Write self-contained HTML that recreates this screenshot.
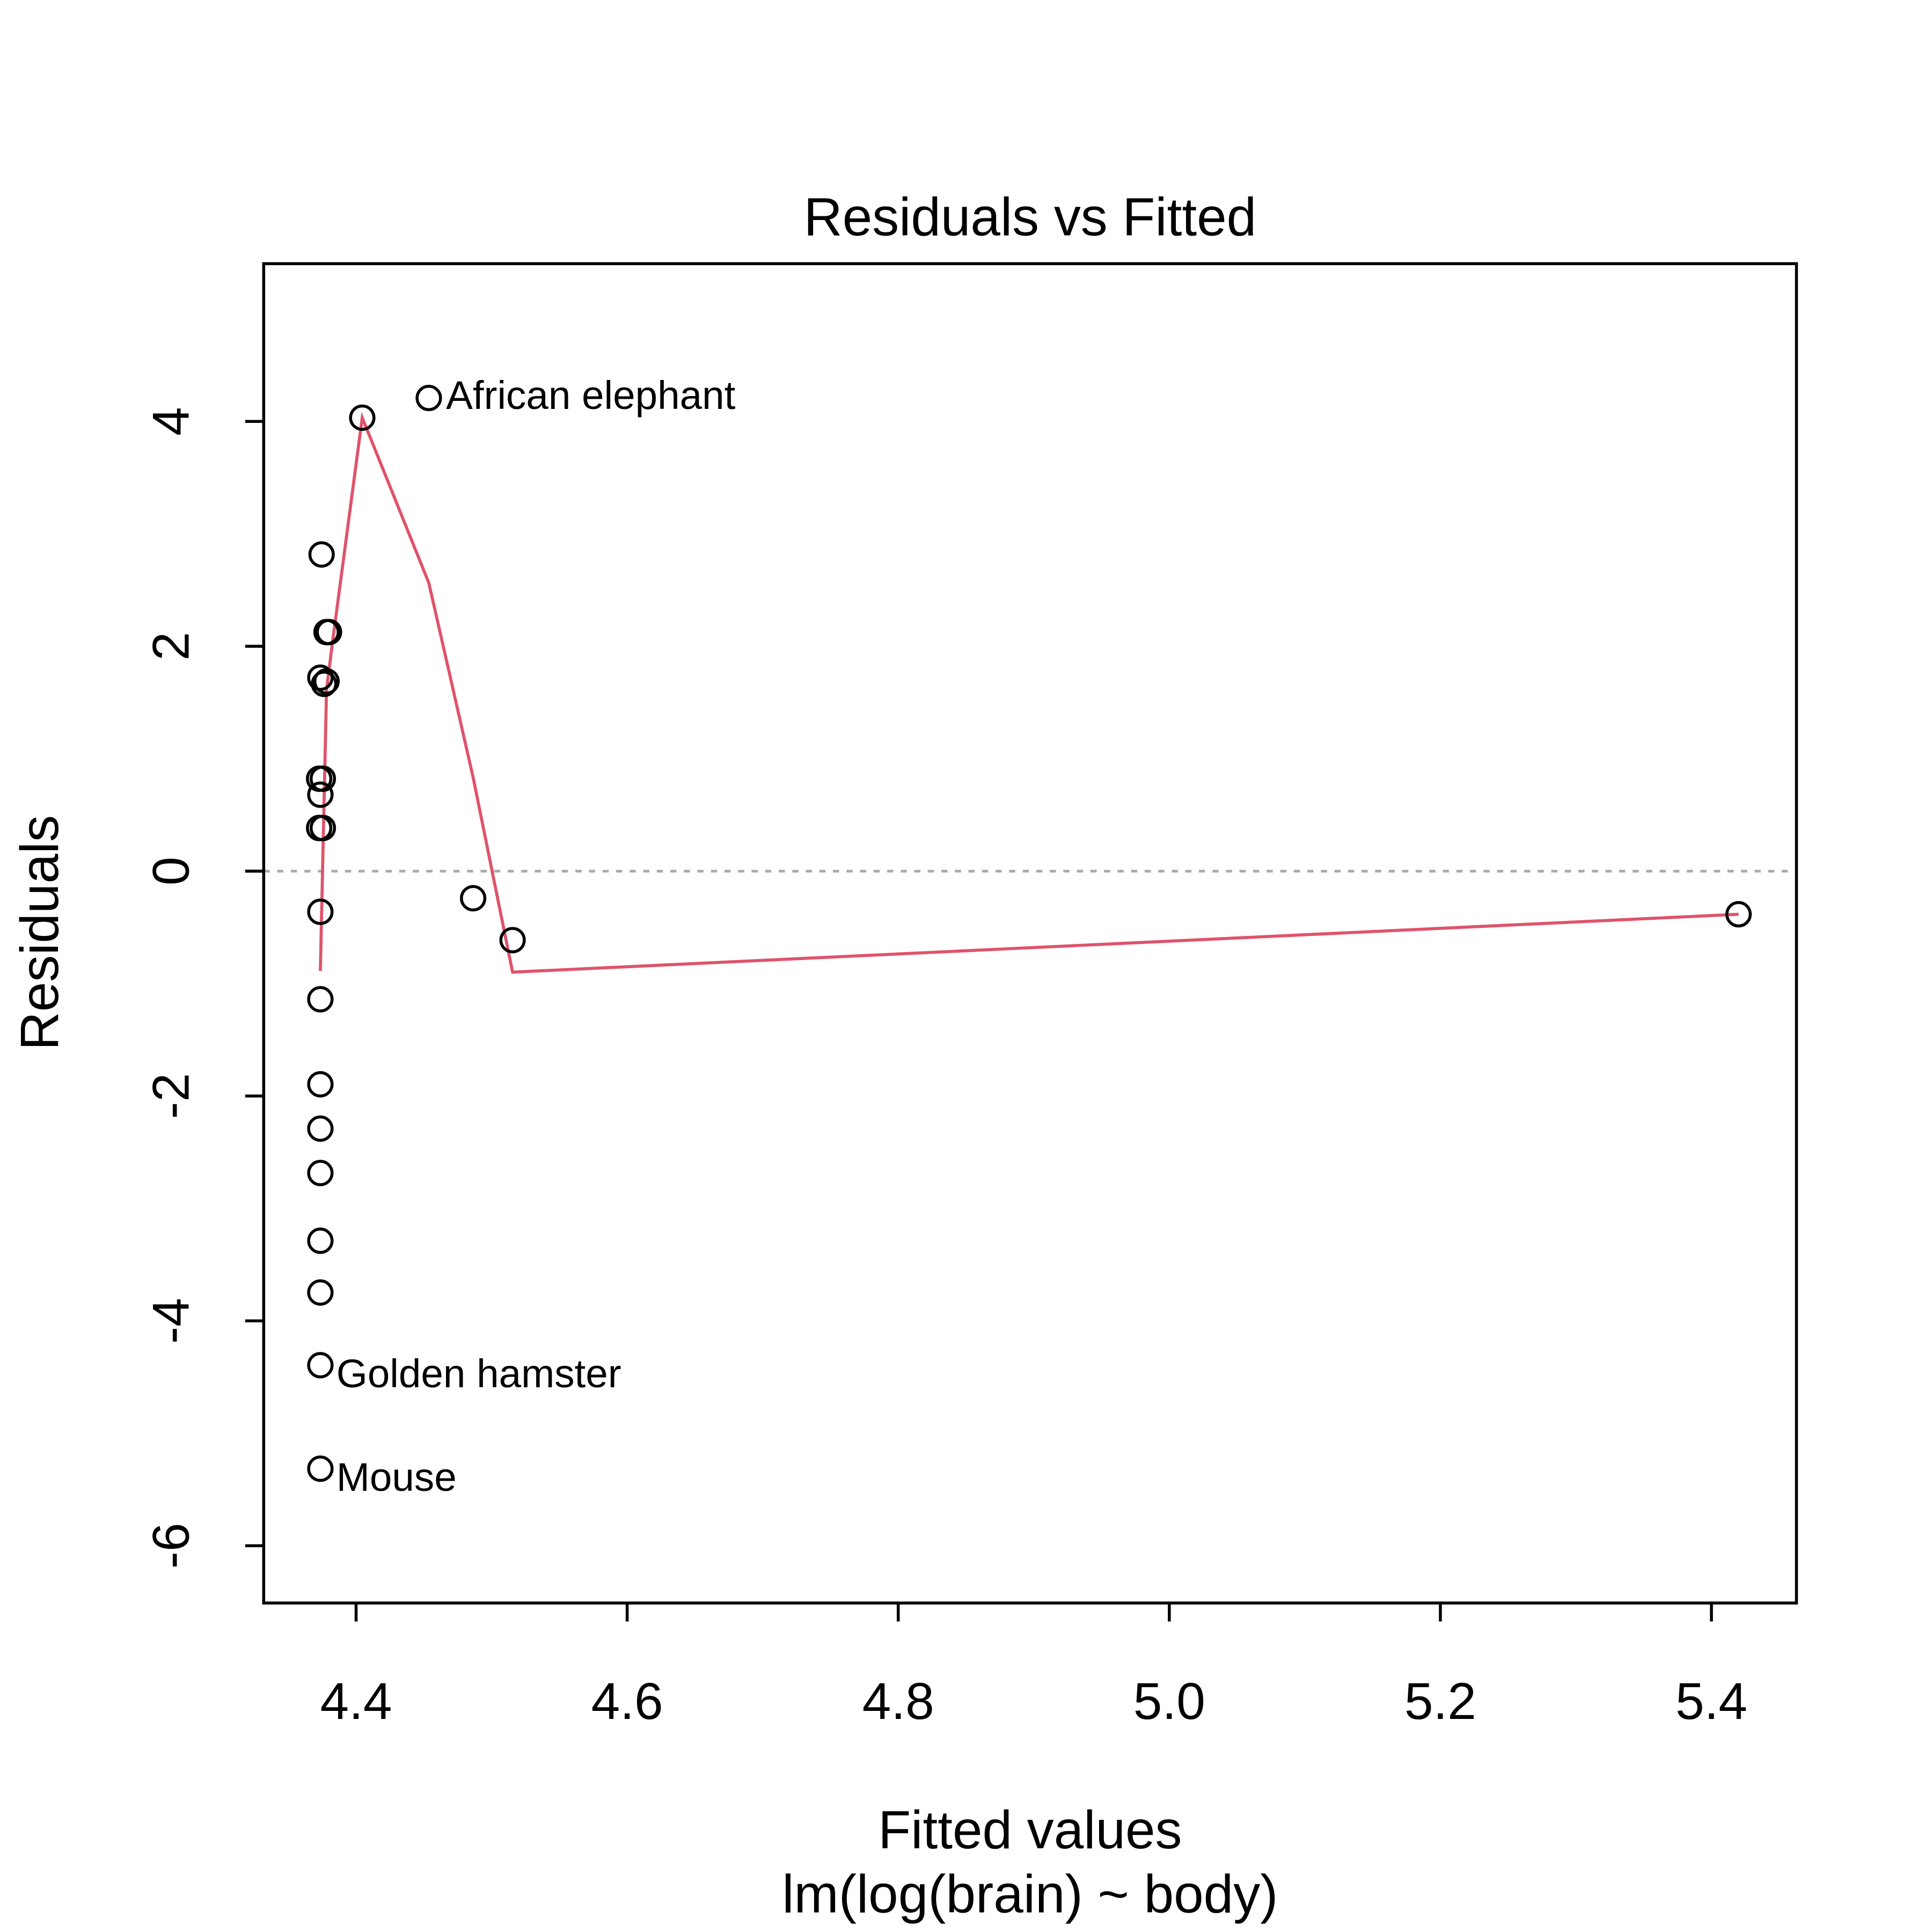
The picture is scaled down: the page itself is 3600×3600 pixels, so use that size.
<!DOCTYPE html>
<html><head><meta charset="utf-8"><style>html,body{margin:0;padding:0;background:#fff}svg{display:block}</style></head><body>
<svg xmlns="http://www.w3.org/2000/svg" width="3600" height="3600" viewBox="0 0 1568 1568" font-family="Liberation Sans, sans-serif">
<rect width="1568" height="1568" fill="#fff"/>
<text x="836" y="191" font-size="43.5" text-anchor="middle">Residuals vs Fitted</text>
<line x1="214" y1="707" x2="1458" y2="707" stroke="#aaa" stroke-width="2.2" stroke-dasharray="5,6"/>
<polyline points="260,788 265,560 270,520 294,339 348,473 384,631 416,789 1411,742" fill="none" stroke="#DF536B" stroke-width="2.5"/>
<g fill="none" stroke="#000" stroke-width="2.4">
<circle cx="294" cy="339" r="9.5"/><circle cx="348" cy="323" r="9.5"/><circle cx="261" cy="450" r="9.5"/>
<circle cx="267" cy="513" r="9.5"/><circle cx="265" cy="513" r="9.5"/><circle cx="260" cy="550" r="9.5"/>
<circle cx="263" cy="555" r="9.5"/><circle cx="265" cy="553" r="9.5"/><circle cx="259" cy="632" r="9.5"/>
<circle cx="262" cy="632" r="9.5"/><circle cx="260" cy="645" r="9.5"/><circle cx="259" cy="672" r="9.5"/>
<circle cx="262" cy="672" r="9.5"/><circle cx="260" cy="740" r="9.5"/><circle cx="260" cy="811" r="9.5"/>
<circle cx="260" cy="880" r="9.5"/><circle cx="260" cy="916" r="9.5"/><circle cx="260" cy="952" r="9.5"/>
<circle cx="260" cy="1007" r="9.5"/><circle cx="260" cy="1049" r="9.5"/><circle cx="260" cy="1108" r="9.5"/>
<circle cx="260" cy="1192" r="9.5"/><circle cx="384" cy="729" r="9.5"/><circle cx="416" cy="763" r="9.5"/>
<circle cx="1411" cy="742" r="9.5"/>
</g>
<g font-size="32.5">
<text x="362" y="332">African elephant</text>
<text x="273" y="1126">Golden hamster</text>
<text x="273" y="1210">Mouse</text>
</g>
<rect x="214" y="214" width="1244" height="1087" fill="none" stroke="#000" stroke-width="2.4"/>
<g stroke="#000" stroke-width="2.4">
<line x1="289" y1="1301" x2="289" y2="1316"/><line x1="509" y1="1301" x2="509" y2="1316"/>
<line x1="729" y1="1301" x2="729" y2="1316"/><line x1="949" y1="1301" x2="949" y2="1316"/>
<line x1="1169" y1="1301" x2="1169" y2="1316"/><line x1="1389" y1="1301" x2="1389" y2="1316"/>
<line x1="214" y1="342" x2="199" y2="342"/><line x1="214" y1="524.5" x2="199" y2="524.5"/>
<line x1="214" y1="707" x2="199" y2="707"/><line x1="214" y1="889.5" x2="199" y2="889.5"/>
<line x1="214" y1="1072" x2="199" y2="1072"/><line x1="214" y1="1254.5" x2="199" y2="1254.5"/>
</g>
<g font-size="42" text-anchor="middle">
<text x="289" y="1395">4.4</text><text x="509" y="1395">4.6</text><text x="729" y="1395">4.8</text>
<text x="949" y="1395">5.0</text><text x="1169" y="1395">5.2</text><text x="1389" y="1395">5.4</text>
<text transform="translate(153,342) rotate(-90)">4</text>
<text transform="translate(153,524.5) rotate(-90)">2</text>
<text transform="translate(153,707) rotate(-90)">0</text>
<text transform="translate(153,889.5) rotate(-90)">-2</text>
<text transform="translate(153,1072) rotate(-90)">-4</text>
<text transform="translate(153,1254.5) rotate(-90)">-6</text>
</g>
<g font-size="43.5" text-anchor="middle">
<text x="836" y="1500">Fitted values</text>
<text x="836" y="1552">lm(log(brain) ~ body)</text>
<text transform="translate(47,757) rotate(-90)">Residuals</text>
</g>
</svg>
</body></html>
